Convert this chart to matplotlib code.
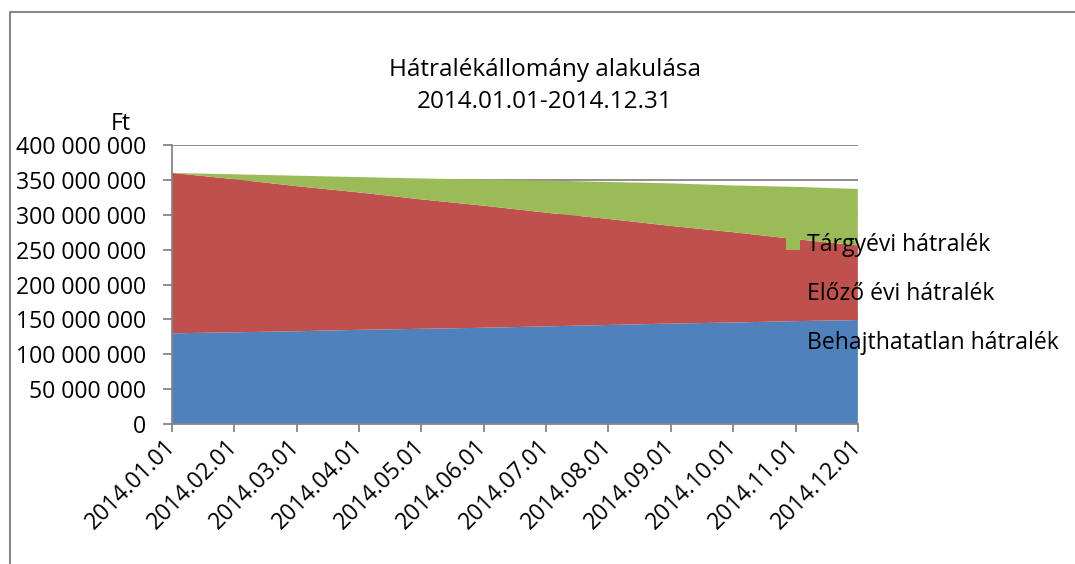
import numpy as np
import matplotlib.pyplot as plt
from matplotlib.lines import Line2D
from matplotlib.ticker import FuncFormatter

plt.rcParams['font.family'] = ['Open Sans', 'DejaVu Sans']

# -----------------------------
# Data (Ft), monthly
# -----------------------------
months = ["2014.01.01", "2014.02.01", "2014.03.01", "2014.04.01",
          "2014.05.01", "2014.06.01", "2014.07.01", "2014.08.01",
          "2014.09.01", "2014.10.01", "2014.11.01", "2014.12.01"]

behajthatatlan = [130e6, 131.5e6, 133e6, 135e6, 136.5e6, 138e6,
                  140e6, 142e6, 144e6, 145.5e6, 147.5e6, 149e6]
elozo_evi = [230e6, 219.5e6, 208e6, 197e6, 185.5e6, 175e6,
             163e6, 152e6, 140e6, 129.5e6, 117.5e6, 107e6]
targyevi = [0, 7e6, 15e6, 22e6, 30e6, 37.5e6,
            46e6, 53e6, 61e6, 67e6, 75e6, 81e6]

labels = ["Behajthatatlan hátralék", "Előző évi hátralék", "Tárgyévi hátralék"]
colors = ["#4F81BD", "#C0504D", "#9BBB59"]

# -----------------------------
# Figure
# -----------------------------
fig = plt.figure(figsize=(10.75, 5.64), dpi=100)
ax = fig.add_axes([0.16, 0.2482, 0.638, 0.4947])

x = np.arange(len(months))
polys = ax.stackplot(x, behajthatatlan, elozo_evi, targyevi,
                     colors=colors, labels=labels, zorder=2)

ax.set_xlim(0, len(months) - 1)
ax.set_ylim(0, 400e6)
ax.set_yticks(np.arange(0, 400e6 + 1, 50e6))
ax.yaxis.set_major_formatter(FuncFormatter(lambda v, p: f"{int(v):,}".replace(",", " ")))
ax.set_xticks(x)
ax.set_xticklabels(months, rotation=45, ha='right', va='center', rotation_mode='anchor')

ax.grid(axis='y', color='#868686', lw=1.3, zorder=0)
ax.set_axisbelow(True)
for s in ['top', 'right']:
    ax.spines[s].set_visible(False)
for s in ['left', 'bottom']:
    ax.spines[s].set_color('#868686')
    ax.spines[s].set_linewidth(1.3)
ax.tick_params(axis='y', length=6.5, width=1.3, color='#868686', pad=12, labelsize=16.6)
ax.tick_params(axis='x', length=6, width=1.3, color='#868686', pad=8, labelsize=16.6)

fig.text(0.1125, 0.781, "Ft", ha='center', va='center', fontsize=16.6)
fig.text(0.507, 0.848, "Hátralékállomány alakulása\n2014.01.01-2014.12.31",
         ha='center', va='center', fontsize=17.5, linespacing=1.45)

h, l = ax.get_legend_handles_labels()
ax.legend(h[::-1], l[::-1], loc='center left', bbox_to_anchor=(0.7312, 0.4787),
          bbox_transform=fig.transFigure, frameon=False, fontsize=16.6,
          handlelength=0.6, handleheight=0.6, handletextpad=0.3,
          labelspacing=1.1, borderpad=0, borderaxespad=0)

# outer chart frame (left and top edges visible)
fig.add_artist(Line2D([0.0093, 0.0093, 1.0], [0.0, 0.9787, 0.9787],
                      transform=fig.transFigure, color='#868686', lw=1.5))

fig.savefig("out.png", dpi=100)
